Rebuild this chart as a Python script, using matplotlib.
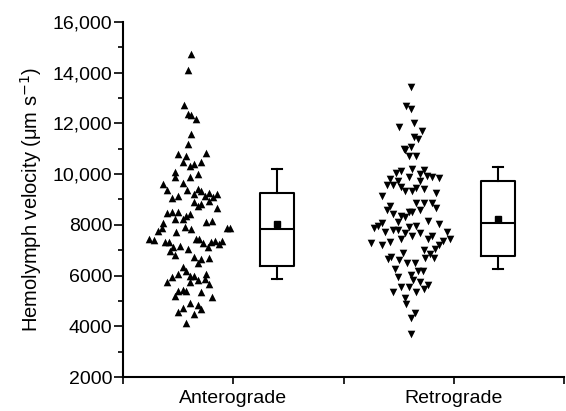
import numpy as np
import matplotlib.pyplot as plt
from matplotlib.ticker import FuncFormatter, MultipleLocator

plt.rcParams['font.family'] = ['Liberation Sans', 'DejaVu Sans']

categories = ['Anterograde', 'Retrograde']

# scatter: horizontal spread (axis units, around the group centre) and velocity values
ante_x = [0.02, -0.01, -0.05, -0.01, 0.02, 0.06, 0.02, -0.01, -0.10, -0.03,
          0.15, -0.06, 0.01, 0.04, 0.11, -0.13, -0.13, 0.01, 0.08, -0.24,
          -0.06, -0.20, -0.02, 0.08, 0.11, 0.18, 0.25, -0.10, -0.16, 0.04,
          0.14, 0.22, 0.04, 0.11, 0.18, 0.08, 0.25, -0.20, -0.16, -0.10,
          -0.13, -0.06, -0.03, 0.01, -0.24, 0.15, 0.21, -0.25, -0.04, 0.02,
          -0.28, -0.12, 0.34, 0.37, -0.36, -0.32, -0.22, -0.18, -0.08, 0.06,
          0.09, 0.13, 0.20, 0.23, 0.30, 0.27, 0.17, -0.15, -0.17, -0.01,
          -0.13, 0.04, 0.11, 0.18, 0.08, -0.06, -0.03, -0.16, -0.10, 0.01,
          0.04, 0.15, 0.08, 0.14, -0.20, 0.01, 0.18, -0.10, -0.06, -0.03,
          0.11, -0.13, 0.21, 0.01, 0.08, -0.06, 0.11, -0.10, 0.04, -0.03]
ante_y = [14730, 14100, 12720, 12390, 12320, 12190, 11570, 11180, 10790, 10730,
          10850, 10480, 10330, 10390, 10460, 10090, 9890, 9890, 10000, 9630,
          9670, 9360, 9360, 9420, 9330, 9260, 9210, 9130, 9050, 9210,
          9130, 9080, 8920, 8840, 8950, 8740, 8660, 8450, 8490, 8490,
          8250, 8230, 8340, 8410, 8060, 8120, 8160, 7880, 7910, 7830,
          7750, 7700, 7860, 7860, 7450, 7400, 7320, 7320, 7170, 7430,
          7450, 7270, 7310, 7370, 7370, 7230, 7130, 7110, 6950, 7030,
          6810, 6740, 6650, 6700, 6500, 6350, 6190, 5950, 6050, 5990,
          5990, 6050, 5820, 5870, 5730, 5730, 5660, 5390, 5430, 5390,
          5360, 5190, 5160, 4930, 4840, 4710, 4670, 4560, 4480, 4120]

retro_x = [0.01, -0.03, 0.01, -0.10, 0.04, 0.11, 0.04, 0.08, 0.01, -0.05,
           -0.04, -0.01, 0.06, -0.08, -0.12, 0.02, 0.13, 0.09, -0.01, 0.16,
           0.20, 0.27, -0.18, -0.11, -0.21, -0.15, -0.08, 0.09, -0.04, 0.02,
           0.06, 0.13, 0.24, -0.25, 0.06, 0.13, 0.20, -0.18, -0.21, 0.24,
           -0.15, -0.01, 0.02, 0.09, -0.08, -0.04, -0.11, 0.17, -0.25, -0.29,
           -0.32, -0.22, 0.27, -0.01, 0.06, -0.15, -0.11, -0.04, 0.09, 0.02,
           0.20, 0.34, -0.08, 0.17, 0.30, 0.37, -0.35, -0.18, -0.25, 0.27,
           0.23, 0.13, 0.18, -0.06, 0.14, 0.22, -0.17, -0.20, -0.10, -0.02,
           0.05, -0.13, 0.08, 0.12, -0.11, 0.01, 0.03, 0.09, 0.17, -0.08,
           -0.01, 0.13, 0.06, -0.15, -0.04, -0.03, 0.05, 0.01, 0.01]
retro_y = [13440, 12680, 12550, 11840, 12000, 11700, 11470, 11380, 11070, 11010,
           10940, 10710, 10730, 10130, 10030, 10200, 10160, 10000, 9890, 9920,
           9870, 9830, 9810, 9720, 9560, 9560, 9500, 9730, 9340, 9340,
           9460, 9400, 9260, 9140, 8870, 8870, 8880, 8740, 8580, 8650,
           8420, 8510, 8490, 8580, 8340, 8320, 8110, 8160, 8060, 7950,
           7860, 7720, 8030, 7900, 7960, 7790, 7790, 7690, 7660, 7560,
           7570, 7700, 7450, 7430, 7370, 7430, 7270, 7310, 7190, 7200,
           7030, 7000, 6850, 6900, 6680, 6680, 6740, 6640, 6610, 6500,
           6480, 6240, 6190, 6190, 5930, 6020, 5820, 5750, 5620, 5530,
           5560, 5460, 5360, 5340, 5100, 4880, 4510, 4310, 3690]

# box summaries
whislo = [5850, 6260]
q1 = [6370, 6790]
med = [7820, 8070]
q3 = [9260, 9730]
whishi = [10200, 10270]
means = [8020, 8250]

scatter_pos = [0.6, 2.6]
box_pos = [1.4, 3.4]

fig = plt.figure(figsize=(5.66, 4.11), dpi=100)
ax = fig.add_axes([0.2173, 0.0827, 0.7792, 0.8638])

ax.scatter(scatter_pos[0] + np.array(ante_x), ante_y, marker='^', s=30,
           color='black', linewidths=0)
ax.scatter(scatter_pos[1] + np.array(retro_x), retro_y, marker='v', s=30,
           color='black', linewidths=0)

stats = []
for i in range(2):
    stats.append(dict(whislo=whislo[i], q1=q1[i], med=med[i], q3=q3[i],
                      whishi=whishi[i], mean=means[i], fliers=[]))
ax.bxp(stats, positions=box_pos, widths=0.31, showmeans=True,
       boxprops=dict(color='black', linewidth=1.5),
       medianprops=dict(color='black', linewidth=1.5),
       whiskerprops=dict(color='black', linewidth=1.5),
       capprops=dict(color='black', linewidth=1.5),
       capwidths=0.09,
       meanprops=dict(marker='s', markerfacecolor='black',
                      markeredgecolor='black', markersize=5))

ax.set_xlim(0, 4)
ax.set_ylim(2000, 16000)
ax.set_xticks([0, 1, 2, 3, 4])
ax.set_xticklabels(['', categories[0], '', categories[1], ''])
ax.yaxis.set_major_locator(MultipleLocator(2000))
ax.yaxis.set_minor_locator(MultipleLocator(1000))


def fmt(v, pos):
    v = int(round(v))
    return f'{v:,}' if v >= 10000 else str(v)


ax.yaxis.set_major_formatter(FuncFormatter(fmt))

for s in ['top', 'right']:
    ax.spines[s].set_visible(False)
for s in ['left', 'bottom']:
    ax.spines[s].set_linewidth(1.5)

ax.tick_params(axis='y', which='major', direction='out', length=6.5, width=1.2,
               labelsize=14, pad=1)
ax.tick_params(axis='y', which='minor', direction='out', length=3.5, width=1.2)
ax.tick_params(axis='x', which='major', direction='out', length=5, width=1.2,
               labelsize=14, pad=4)

ax.set_ylabel('Hemolymph velocity (\u03bcm s$^{-1}$)', fontsize=14.5, labelpad=6)

fig.savefig('out.png', dpi=100)
